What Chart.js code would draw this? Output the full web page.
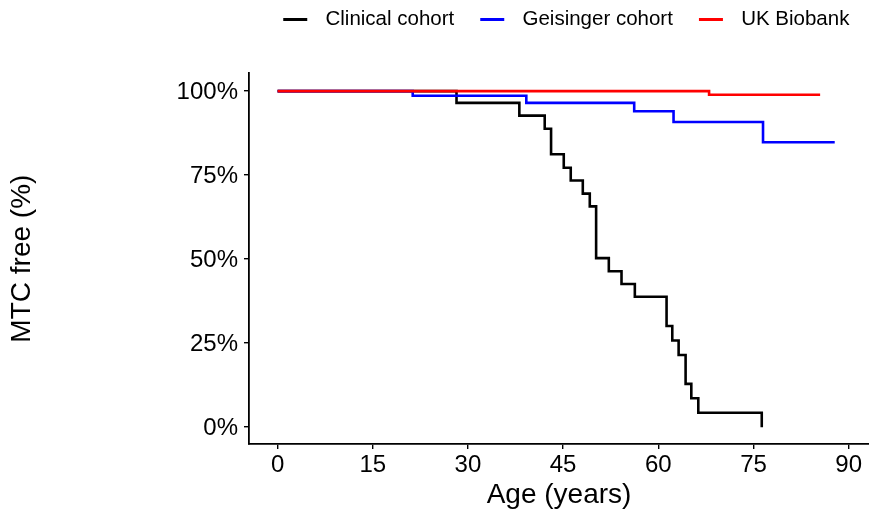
<!DOCTYPE html>
<html>
<head>
<meta charset="utf-8">
<script src="https://cdn.jsdelivr.net/npm/chart.js@4"></script>
<style>
html,body{margin:0;padding:0;background:#ffffff;}
#wrap{width:869px;height:514px;}
</style>
</head>
<body>
<div id="wrap"><canvas id="c" width="869" height="514"></canvas></div>
<script>
// ---- data ----
const seriesNames = ['Clinical cohort', 'Geisinger cohort', 'UK Biobank'];
const seriesColors = ['#000000', '#0000FF', '#FF0000'];

const clinicalAge  = [0, 28.2, 38.1, 42.1, 43.1, 45.1, 46.2, 48.1, 49.2, 50.2, 52.2, 54.2, 56.3, 61.3, 62.2, 63.2, 64.3, 65.2, 66.3, 76.3];
const clinicalFree = [100, 96.5, 92.7, 88.8, 81.2, 77.2, 73.4, 69.5, 65.7, 50.3, 46.4, 42.6, 38.8, 30.1, 25.8, 21.5, 12.9, 8.6, 4.3, 0];

const geisingerAge  = [0, 21.3, 39.2, 56.2, 62.4, 76.5, 87.8];
const geisingerFree = [100, 98.6, 96.5, 94.0, 90.8, 84.8, 84.8];

const ukAge  = [0, 68.0, 85.5];
const ukFree = [100, 98.9, 98.9];

const ageTicks = [0, 15, 30, 45, 60, 75, 90];
const freeTicks = [0, 25, 50, 75, 100];

const xTitle = 'Age (years)';
const yTitle = 'MTC free (%)';

// ---- helpers ----
function toPoints(xs, ys) { return xs.map((x, i) => ({ x: x, y: ys[i] })); }

const FONT = "'Liberation Sans', Arial, Helvetica, sans-serif";
const LEG_FS = 20.5;
const LEG_PAD = 12;

function legendSwatch(color) {
  const lead = 14, len = 24, trail = 8;
  const cv = document.createElement('canvas');
  cv.width = lead + len + trail;
  cv.height = 3;
  const g = cv.getContext('2d');
  g.fillStyle = color;
  g.fillRect(lead, 0, len, 3);
  return cv;
}
const swatches = seriesColors.map(legendSwatch);

const legendPlacer = {
  id: 'legendPlacer',
  afterLayout(chart) {
    const lg = chart.legend;
    if (!lg) return;
    const h = lg.height;
    lg.top = 19 - LEG_PAD - LEG_FS / 2;
    lg.bottom = lg.top + h;
    lg.right = 861.4;
  }
};

const datasets = [
  { label: seriesNames[0], data: toPoints(clinicalAge, clinicalFree), order: 3 },
  { label: seriesNames[1], data: toPoints(geisingerAge, geisingerFree), order: 2 },
  { label: seriesNames[2], data: toPoints(ukAge, ukFree), order: 1 }
].map((d, i) => Object.assign(d, {
  borderColor: seriesColors[i],
  backgroundColor: seriesColors[i],
  borderWidth: 2.6,
  pointRadius: 0,
  pointHoverRadius: 0,
  stepped: 'before',
  tension: 0,
  fill: false,
  borderCapStyle: 'butt',
  borderJoinStyle: 'miter'
}));

Chart.defaults.font.family = FONT;
Chart.defaults.color = '#000000';

new Chart(document.getElementById('c'), {
  type: 'line',
  data: { datasets: datasets },
  plugins: [legendPlacer],
  options: {
    responsive: false,
    animation: false,
    events: [],
    layout: { padding: { top: 73.3 - (LEG_FS + LEG_PAD + 10), left: 0, right: 0, bottom: 0 } },
    plugins: {
      tooltip: { enabled: false },
      legend: {
        display: true,
        position: 'top',
        align: 'end',
        labels: {
          font: { size: LEG_FS, family: FONT },
          color: '#000000',
          padding: LEG_PAD,
          usePointStyle: true,
          pointStyleWidth: 46,
          sort: (a, b) => a.datasetIndex - b.datasetIndex,
          generateLabels(chart) {
            const items = Chart.defaults.plugins.legend.labels.generateLabels(chart);
            items.forEach(it => { it.pointStyle = swatches[it.datasetIndex]; it.lineWidth = 0; });
            return items;
          }
        }
      }
    },
    scales: {
      x: {
        type: 'linear',
        min: -4.5,
        max: 93.2,
        afterBuildTicks(scale) { scale.ticks = ageTicks.map(v => ({ value: v })); },
        afterFit(scale) { scale.height = 70; },
        ticks: { font: { size: 24, family: FONT }, color: '#000000', padding: 2, maxRotation: 0, autoSkip: false },
        grid: { display: true, drawOnChartArea: false, drawTicks: true, tickLength: 5, color: '#000000', lineWidth: 1.4 },
        border: { display: true, color: '#000000', width: 1.8 },
        title: { display: true, text: xTitle, font: { size: 28, family: FONT, lineHeight: 1 }, color: '#000000', padding: { top: 0, bottom: 5 } }
      },
      y: {
        type: 'linear',
        min: -5,
        max: 105.3,
        afterBuildTicks(scale) { scale.ticks = freeTicks.map(v => ({ value: v })); },
        afterFit(scale) { scale.width = 249; },
        ticks: { font: { size: 24, family: FONT }, color: '#000000', padding: 6, labelOffset: 1.5, callback: v => v + '%' },
        grid: { display: true, drawOnChartArea: false, drawTicks: true, tickLength: 5, color: '#000000', lineWidth: 1.4 },
        border: { display: true, color: '#000000', width: 1.8 },
        title: { display: true, text: yTitle, font: { size: 28, family: FONT, lineHeight: 1 }, color: '#000000', padding: { top: 8, bottom: 0 } }
      }
    }
  }
});
</script>
</body>
</html>
